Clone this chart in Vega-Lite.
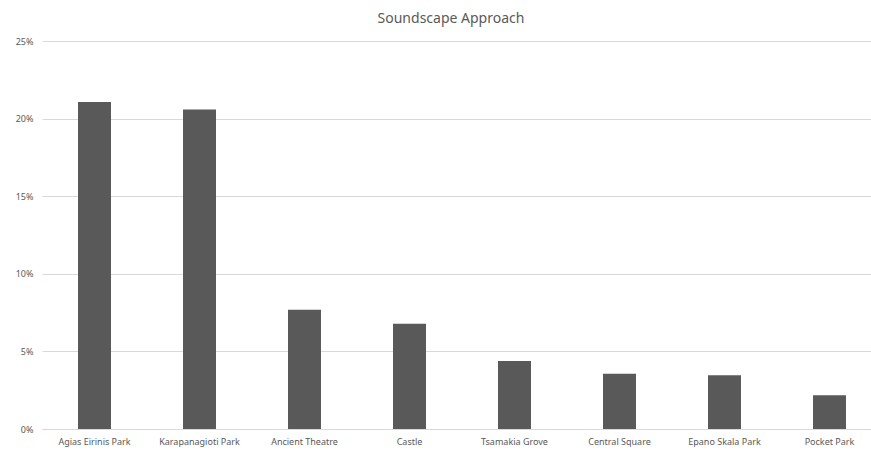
{
  "$schema": "https://vega.github.io/schema/vega-lite/v6.json",
  "autosize": "none",
  "padding": {"left": 42, "top": 41, "right": 0, "bottom": 22},
  "width": 840,
  "height": 388,
  "background": "white",
  "title": {
    "text": "Soundscape Approach",
    "anchor": "middle",
    "dx": -11,
    "offset": 11,
    "font": "Noto Sans",
    "fontSize": 14,
    "fontWeight": "normal",
    "color": "#595959"
  },
  "data": {
    "values": [
      {"site": "Agias Eirinis Park", "share": 0.2107},
      {"site": "Karapanagioti Park", "share": 0.2059},
      {"site": "Ancient Theatre", "share": 0.0768},
      {"site": "Castle", "share": 0.0678},
      {"site": "Tsamakia Grove", "share": 0.0438},
      {"site": "Central Square", "share": 0.0356},
      {"site": "Epano Skala Park", "share": 0.0346},
      {"site": "Pocket Park", "share": 0.0217}
    ]
  },
  "mark": {"type": "bar", "color": "#595959"},
  "encoding": {
    "x": {
      "field": "site",
      "type": "nominal",
      "sort": null,
      "scale": {"paddingInner": 0.686, "paddingOuter": 0.343},
      "axis": {
        "title": null,
        "labelAngle": 0,
        "labelFont": "Noto Sans",
        "labelFontSize": 9,
        "labelColor": "#595959",
        "labelPadding": 8,
        "ticks": false,
        "domainColor": "#d9d9d9",
        "grid": false
      }
    },
    "y": {
      "field": "share",
      "type": "quantitative",
      "scale": {"domain": [0, 0.25], "nice": false},
      "axis": {
        "title": null,
        "values": [0, 0.05, 0.1, 0.15, 0.2, 0.25],
        "format": ".0%",
        "labelFont": "Noto Sans",
        "labelFontSize": 9,
        "labelColor": "#595959",
        "labelPadding": 9,
        "ticks": false,
        "domain": false,
        "gridColor": "#d9d9d9",
        "gridWidth": 1
      }
    }
  },
  "config": {"view": {"stroke": null}}
}
